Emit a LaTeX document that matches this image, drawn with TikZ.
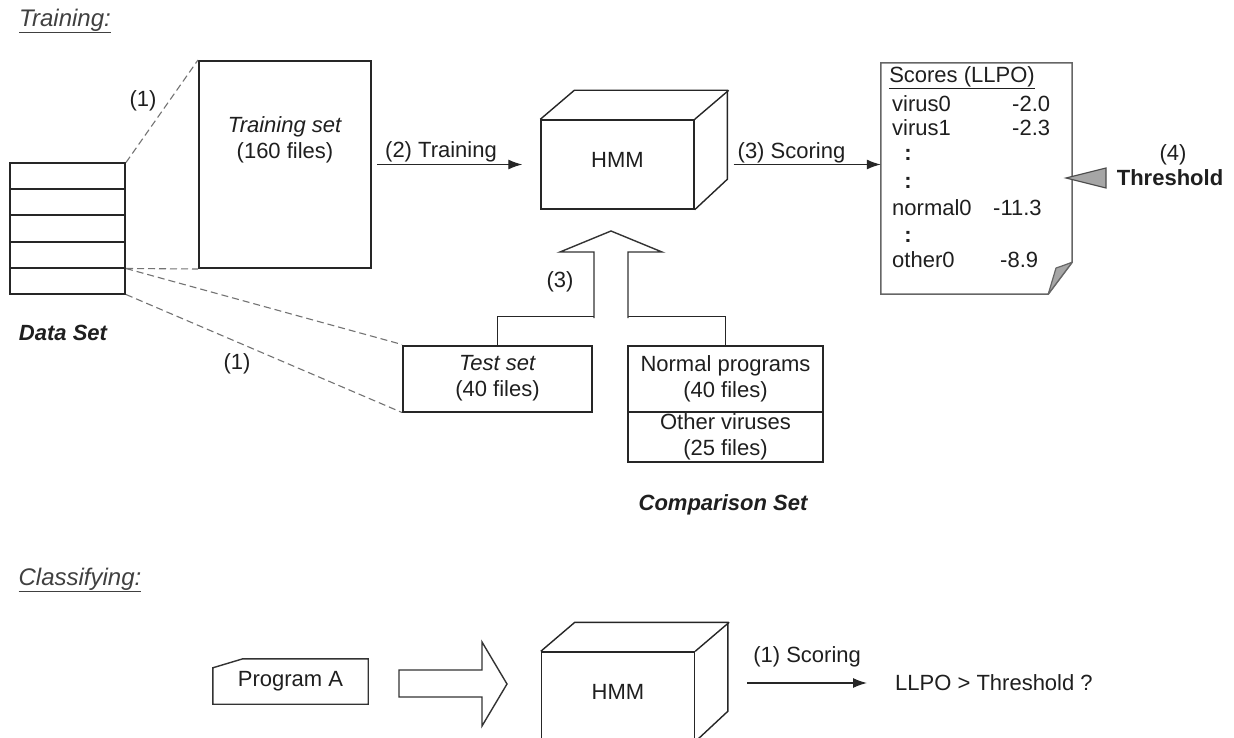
\documentclass[tikz,border=0pt]{standalone}
\usepackage{fontspec}
\setmainfont{Liberation Sans}
\usetikzlibrary{calc,arrows.meta}
\begin{document}
\begin{tikzpicture}[x=1pt,y=-1pt,
  every node/.style={inner sep=0pt, text=black!88},
  txt/.style={font=\fontsize{22}{26}\selectfont, align=center},
  head/.style={font=\fontsize{24}{28}\selectfont\itshape, text=black!75},
  boldit/.style={font=\fontsize{22}{26}\selectfont\bfseries\itshape},
  box/.style={draw=black!85, line width=2pt},
  cell/.style={box, minimum width=115pt, minimum height=26pt},
  face/.style={draw=black!85, line width=1.4pt, fill=white, minimum width=153pt, minimum height=89pt, font=\fontsize{22}{26}\selectfont, text depth=9pt},
  cubeline/.style={draw=black!85, line width=1.4pt, line join=miter},
  arr/.style={draw=black!85, line width=1.3pt, -{Latex[length=14pt,width=10pt]}},
  dashln/.style={draw=black!55, line width=1.1pt, dash pattern=on 7pt off 4pt},
  block/.style={draw=black!80, line width=1.4pt, fill=white, line join=miter},
  doc/.style={draw=black!60, line width=1.5pt},
]
\clip (0,0) rectangle (1234,738);
\fill[white] (0,0) rectangle (1234,738);

% headings
\node[head] (thead) at (65,21) {\underline{Training:}};
\node[head] (chead) at (80,580) {\underline{Classifying:}};

% data set stack
\node[cell] (r1) at (67.5,176.5) {};
\node[cell] (r2) at (67.5,202.5) {};
\node[cell] (r3) at (67.5,228.5) {};
\node[cell] (r4) at (67.5,254.5) {};
\node[cell] (r5) at (67.5,280.5) {};
\node[boldit] (dslab) at (63,333) {Data Set};

% training set
\node[box, minimum width=172pt, minimum height=207pt] (tset) at (285,164.5) {};
\node[txt] (tsettxt) at (285,140) {\textit{Training set}\\(160 files)};

% test set and comparison set
\node[box, minimum width=189pt, minimum height=66pt, txt] (test) at (497.5,378.5) {\textit{Test set}\\(40 files)};
\node[box, minimum width=195pt, minimum height=66pt, txt] (norm) at (725.5,378.5) {Normal programs\\(40 files)};
\node[box, minimum width=195pt, minimum height=50pt, txt] (other) at (725.5,436.5) {Other viruses\\(25 files)};
\node[boldit] (cslab) at (723,505) {Comparison Set};

% dashed projections
\draw[dashln] (r1.north east) -- (tset.north west);
\draw[dashln] (r4.south east) -- (tset.south west);
\draw[dashln] (r4.south east) -- (test.north west);
\draw[dashln] (r5.south east) -- (test.south west);
\node[txt] (one1) at (143,101) {(1)};
\node[txt] (one2) at (237,364) {(1)};

% top HMM cube
\node[face] (hmm1) at (617.5,164.5) {HMM};
\draw[cubeline] (hmm1.north west) -- ++(34,-29) -- ++(153,0) -- ++(0,89) -- (hmm1.south east);
\draw[cubeline] (hmm1.north east) -- ++(34,-29);

% training arrow
\draw[arr, shorten <=5pt, shorten >=18pt] (tset.east) -- (hmm1.west)
  node[txt, pos=0.41, above=2pt] {(2) Training};

% bracket and block arrow up
\draw[box, line width=1.5pt] (test.north) -- ++(0,-28) -| (norm.north);
\draw[block] (594,318) -- (594,252) -- (560,252) -- (611,231) -- (662,252) -- (628,252) -- (628,318);
\node[txt] (three) at (560,282) {(3)};

% scores document
\node[minimum width=191pt, minimum height=231pt] (scores) at (976.5,178.5) {};
\draw[doc] (scores.south west) -- (scores.north west) -- (scores.north east)
  -- ([yshift=32pt]scores.south east) -- ([xshift=-24pt]scores.south east) -- cycle;
\draw[draw=black!60, line width=1.2pt, fill=black!35, line join=round]
  ([yshift=32pt]scores.south east) .. controls (1062,266) .. (1056,268)
  -- ([xshift=-24pt]scores.south east) -- cycle;
\node[txt] (sh) at (962,78) {\underline{Scores (LLPO)}};
\node[txt, anchor=west] (s1) at (892,104) {virus0};
\node[txt, anchor=west] (v1) at (1012,104) {-2.0};
\node[txt, anchor=west] (s2) at (892,128) {virus1};
\node[txt, anchor=west] (v2) at (1012,128) {-2.3};
\node[txt] (c1) at (908,155) {\textbf{:}};
\node[txt] (c2) at (908,183) {\textbf{:}};
\node[txt, anchor=west] (s3) at (892,208) {normal0};
\node[txt, anchor=west] (v3) at (993,208) {-11.3};
\node[txt] (c3) at (908,237) {\textbf{:}};
\node[txt, anchor=west] (s4) at (892,260) {other0};
\node[txt, anchor=west] (v4) at (1000,260) {-8.9};

% scoring arrow
\draw[arr, shorten <=39pt] (hmm1.east) -- (hmm1.east -| scores.west)
  node[txt, pos=0.52, above=1pt] {(3) Scoring};

% threshold
\node[txt] (four) at (1173,155) {(4)};
\node[txt, font=\fontsize{22}{26}\selectfont\bfseries] (thr) at (1170,178) {Threshold};
\draw[draw=black!70, line width=1.2pt, fill=black!35, line join=miter]
  (1066,178) -- (1106,168) -- (1106,188) -- cycle;

% classifying row
\node[txt, minimum width=155pt, minimum height=45pt] (progA) at (290.5,681.5) {Program A};
\draw[block, fill=none] (progA.south west) -- ([yshift=-9pt]progA.north west)
  -- ([xshift=30pt]progA.north west) -- (progA.north east) -- (progA.south east) -- cycle;
\draw[block] (399,670) -- (482,670) -- (482,642) -- (507,684) -- (482,726) -- (482,697) -- (399,697) -- cycle;

\node[face] (hmm2) at (618,696.5) {HMM};
\draw[cubeline] (hmm2.north west) -- ++(34,-29) -- ++(153,0) -- ++(0,89) -- (hmm2.south east);
\draw[cubeline] (hmm2.north east) -- ++(34,-29);

\node[txt, anchor=west] (llpo) at (895,683) {LLPO > Threshold ?};
\draw[arr, shorten <=52pt, shorten >=28pt] (hmm2.east |- llpo.west) -- (llpo.west)
  node[txt, pos=0.56, above=15pt] {(1) Scoring};
\end{tikzpicture}
\end{document}
